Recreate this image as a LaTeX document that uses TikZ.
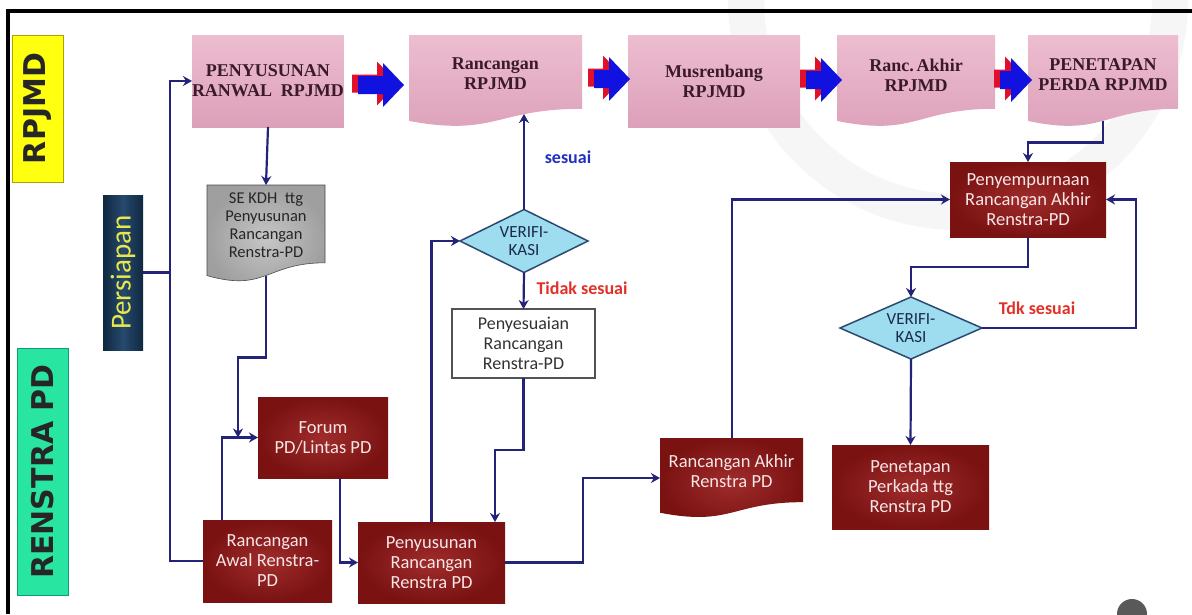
\documentclass[tikz,border=0pt]{standalone}
\usepackage{fontspec}
\setmainfont{Carlito}
\newfontfamily\serifbf{Liberation Serif}
\newfontfamily\sidefont{DejaVu Sans}
\usetikzlibrary{shapes.geometric,arrows.meta,calc}
\definecolor{linec}{HTML}{23237A}
\definecolor{pinkT}{HTML}{EDBDD0}
\definecolor{pinkB}{HTML}{DCA0B9}
\definecolor{pinkfg}{HTML}{3A1A28}
\definecolor{redI}{HTML}{A02C2C}
\definecolor{redO}{HTML}{7A1212}
\definecolor{redfg}{HTML}{F7E6E6}
\definecolor{yellowc}{HTML}{FFFF10}
\definecolor{ybord}{HTML}{B0A000}
\definecolor{greenc}{HTML}{28E6A2}
\definecolor{gbord}{HTML}{169870}
\definecolor{sidefg}{HTML}{262626}
\definecolor{persA}{HTML}{10283F}
\definecolor{persB}{HTML}{26496E}
\definecolor{persfg}{HTML}{E8E848}
\definecolor{diamfill}{HTML}{9EDCF0}
\definecolor{diambord}{HTML}{2C4A70}
\definecolor{diamfg}{HTML}{1A2A4A}
\definecolor{bluelbl}{HTML}{2030C0}
\definecolor{redlbl}{HTML}{E23028}
\definecolor{arrblue}{HTML}{1212E0}
\definecolor{arrred}{HTML}{E0102A}
\newcommand{\docshape}[5]{%
  \shade[#5] (#1,#2) -- (#3,#2) -- (#3,{#2+0.802*#4})
    .. controls ({(#1+#3)/2},{#2+0.802*#4}) and ({(#1+#3)/2},{#2+1.107*#4}) ..
    (#1,{#2+0.934*#4}) -- cycle;}
\newcommand{\blockarr}[3]{%
  \fill[arrred] ({#1-6},{#3-10.5}) -- ({#2-27},{#3-10.5}) -- ({#2-27},{#3-23.5}) -- ({#2-6},{#3-1.5})
    -- ({#2-27},{#3+20.5}) -- ({#2-27},{#3+7.5}) -- ({#1-6},{#3+7.5}) -- cycle;
  \fill[arrblue] (#1,{#3-9}) -- ({#2-21},{#3-9}) -- ({#2-21},{#3-22}) -- (#2,#3)
    -- ({#2-21},{#3+22}) -- ({#2-21},{#3+9}) -- (#1,{#3+9}) -- cycle;}
\tikzset{
  conn/.style={draw=linec, line width=2.2pt},
  arr/.style={conn, -{Stealth[length=9pt,width=10pt]}},
  pinkshade/.style={top color=pinkT, bottom color=pinkB},
  redshade/.style={inner color=redI, outer color=redO},
  seshade/.style={inner color=gray!45, outer color=gray!75, draw=gray!60!black, line width=0.6pt},
  ptext/.style={inner sep=0pt, outer sep=0pt, align=center, text=pinkfg,
    font=\serifbf\bfseries\fontsize{18}{20}\selectfont},
  pinkbox/.style={ptext, pinkshade, anchor=north west},
  rtext/.style={inner sep=0pt, outer sep=0pt, align=center, text=redfg,
    font=\fontsize{18.5}{20}\selectfont},
  redbox/.style={rtext, redshade, anchor=north west},
  stext/.style={inner sep=0pt, outer sep=0pt, align=center, text=black!85,
    font=\fontsize{16.5}{18}\selectfont},
  whitebox/.style={inner sep=0pt, outer sep=0pt, align=center, text=black!80,
    font=\fontsize{18}{20}\selectfont, fill=white, draw=gray!65!black, line width=1.3pt,
    anchor=north west},
  diam/.style={diamond, inner sep=0pt, outer sep=0pt, draw=diambord, line width=1.5pt,
    fill=diamfill, text=diamfg, align=center, font=\fontsize{17}{18}\selectfont},
  lbl/.style={inner sep=0pt, font=\bfseries\fontsize{18}{20}\selectfont},
  sidelbl/.style={rotate=90, inner sep=0pt, outer sep=0pt, line width=1pt,
    font=\sidefont\bfseries\fontsize{30}{30}\selectfont, text=sidefg}
}
\begin{document}
\begin{tikzpicture}[x=1pt,y=-1pt]
\useasboundingbox (0,0) rectangle (1192,614);
\fill[white] (0,0) rectangle (1192,614);
% faint watermark ring
\begin{scope}
  \clip (0,0) rectangle (1192,614);
  \draw[line width=36pt, black!3.5] (958,0) circle[radius=212];
\end{scope}
% frame
\draw[line width=4.5pt, line join=miter] (8,614) -- (8,11) -- (1192,11);

% side labels
\node[sidelbl, fill=yellowc, draw=ybord, minimum width=147pt, minimum height=51pt] (lrp) at (37.5,108.5) {RPJMD};
\node[sidelbl, fill=greenc, draw=gbord, minimum width=247pt, minimum height=51pt] (lre) at (42.5,471.5) {RENSTRA PD};
\node[rotate=90, inner sep=0pt, outer sep=0pt, left color=persA, right color=persA, middle color=persB,
  minimum width=155pt, minimum height=40pt, text=persfg, font=\fontsize{29}{29}\selectfont] (pers) at (123,272.5) {Persiapan};

% top row
\node[pinkbox, minimum width=148pt, minimum height=92pt] (p1) at (192,35) {PENYUSUNAN\\RANWAL~~RPJMD};
\docshape{409}{35}{582}{92}{pinkshade}
\node[ptext] (p2) at (495.5,74) {Rancangan\\RPJMD};
\node[pinkbox, minimum width=172pt, minimum height=92pt] (p3) at (628,35) {Musrenbang\\RPJMD};
\docshape{837}{35}{995}{92}{pinkshade}
\node[ptext] (p4) at (916,75) {Ranc.\,Akhir\\RPJMD};
\docshape{1028}{35}{1178}{92}{pinkshade}
\node[ptext] (p5) at (1103,75) {PENETAPAN\\PERDA RPJMD};

% block arrows
\blockarr{358}{404}{85}
\blockarr{594}{630}{79}
\blockarr{806}{842}{80}
\blockarr{1000}{1032}{80}

% lower nodes
\docshape{207}{185}{325}{97}{seshade}
\node[stext] (se) at (266,225) {SE KDH~~ttg\\Penyusunan\\Rancangan\\Renstra-PD};
\node[redbox, minimum width=130pt, minimum height=81pt] (fo) at (258,397) {Forum\\PD/Lintas PD};
\node[redbox, minimum width=129pt, minimum height=82pt] (ra) at (203,520) {Rancangan\\Awal Renstra-\\PD};
\node[redbox, minimum width=147pt, minimum height=81pt] (py) at (358,522) {Penyusunan\\Rancangan\\Renstra PD};
\node[whitebox, minimum width=143pt, minimum height=69pt] (pen) at (452,309) {Penyesuaian\\Rancangan\\Renstra-PD};
\docshape{660}{438}{803}{80}{redshade}
\node[rtext] (rak) at (731.5,471) {Rancangan Akhir\\Renstra PD};
\node[redbox, minimum width=156pt, minimum height=75pt] (psp) at (950,162) {Penyempurnaan\\Rancangan Akhir\\Renstra-PD};
\node[redbox, minimum width=157pt, minimum height=84pt] (ppk) at (832,445) {Penetapan\\Perkada ttg\\Renstra PD};
\node[diam, aspect=2.03, minimum width=128pt, minimum height=63pt] (d1) at (524,241) {VERIFI-\\KASI};
\node[diam, aspect=2.29, minimum width=142pt, minimum height=62pt] (d2) at (911,328) {VERIFI-\\KASI};

% labels
\node[lbl, text=bluelbl] (ls) at (568,157) {sesuai};
\node[lbl, text=redlbl] (lt) at (582,288) {Tidak sesuai};
\node[lbl, text=redlbl] (ltdk) at (1037,308) {Tdk sesuai};

% coordinates on wavy borders
\coordinate (bus) at (170,272.5);
\coordinate (seb) at (266,275.5);
\coordinate (p2b) at (524,114);
\coordinate (p5b) at (1103,120.5);
\coordinate (rakt) at (732,438);
\coordinate (rakw) at (660,478);
\coordinate (j1) at ($(fo.west)+(-20,0)$);

% connectors
\draw[conn] (pers.south) -- (bus);   % pers.south is its right side (node rotated)
\draw[arr] (bus) |- (p1.west);
\draw[conn] (bus) |- (ra.west);
\draw[arr] (p1.south) -- (se.north |- 0,185);
\draw[arr] (seb) -- ++(0,82) -| (j1);
\draw[arr] ($(ra.north west)+(19,0)$) |- (fo.west);
\draw[arr] ($(fo.south west)+(82,0)$) |- (py.west);
\draw[arr] (py.north) |- (d1.west);
\draw[arr] (d1.north) -- (p2b);
\draw[arr] (d1.south) -- (pen.north);
\draw[arr] (pen.south) -- ++(0,72) -| ($(py.north west)+(137,0)$);
\draw[arr] (py.east) -| ($(rakw)+(-77,0)$) -- (rakw);
\draw[arr] (rakt) |- (psp.west);
\draw[arr] (p5b) -- ++(0,22) -| (psp.north);
\draw[arr] (psp.south) -- ++(0,30) -| (d2.north);
\draw[arr] (d2.east) -| ($(psp.east)+(30,0)$) -- (psp.east);
\draw[arr] (d2.south) -- (ppk.north);

% partial icon at bottom right
\fill[black!65] (1132,614) circle[radius=15];
\end{tikzpicture}
\end{document}
